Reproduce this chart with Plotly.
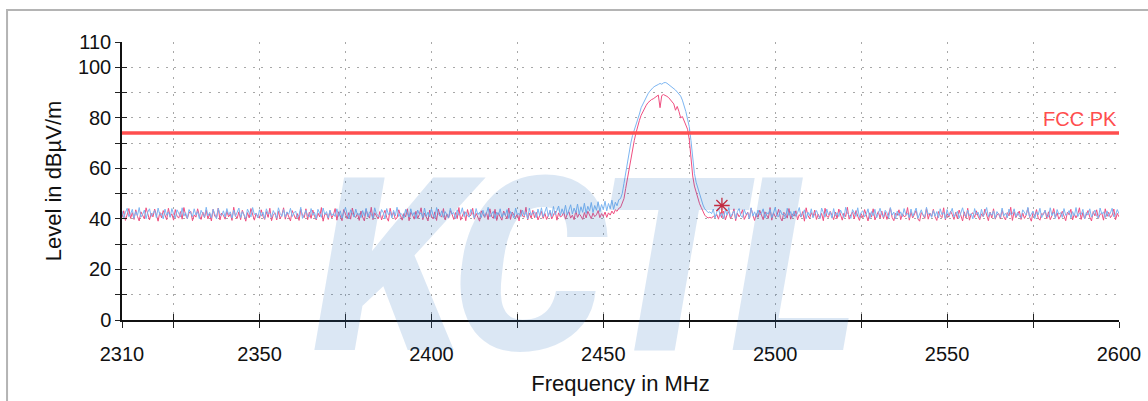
import plotly.graph_objects as go

# ---------------- data ----------------
SWEEP_START_MHZ = 2310.0
SWEEP_STEP_MHZ = 0.5

# blue (peak) trace, 2310 - 2429.5 MHz
blue_low_band = [
    43.1, 40.4, 42.6, 44.2, 40.9, 42.0, 43.8, 40.2, 42.9, 41.3,
    44.5, 40.7, 41.8, 43.5, 40.1, 42.7, 44.0, 41.0, 42.3, 43.3,
    40.5, 44.3, 41.6, 42.1, 40.0, 43.9, 41.4, 42.8, 40.6, 44.1,
    41.9, 40.3, 43.6, 42.4, 40.8, 44.4, 41.1, 42.5, 40.2, 43.7,
    42.2, 40.9, 44.0, 41.5, 42.9, 40.1, 43.4, 41.7, 40.6, 44.6,
    41.2, 42.6, 40.4, 43.8, 41.8, 40.0, 44.2, 42.0, 41.3, 43.2,
    40.7, 44.1, 41.6, 42.8, 40.3, 43.5, 41.0, 42.4, 44.3, 40.5,
    42.9, 41.4, 40.2, 43.9, 42.1, 40.8, 44.5, 41.7, 42.3, 40.4,
    43.6, 41.1, 42.7, 40.1, 44.0, 41.9, 42.5, 40.6, 43.3, 41.5,
    40.3, 44.4, 42.2, 41.0, 43.7, 40.7, 42.8, 41.8, 44.2, 40.9,
    42.4, 43.1, 40.5, 41.6, 44.6, 40.2, 42.0, 43.4, 41.2, 40.8,
    44.1, 41.4, 42.6, 40.0, 43.8, 42.3, 40.6, 44.3, 41.7, 42.9,
    40.4, 43.5, 41.3, 42.1, 40.9, 44.0, 41.0, 43.2, 40.3, 42.7,
    44.5, 41.8, 40.1, 43.6, 42.4, 40.7, 43.9, 41.5, 42.2, 40.5,
    43.3, 41.1, 44.2, 40.8, 42.8, 41.9, 40.2, 44.4, 42.0, 41.4,
    40.6, 43.7, 42.5, 40.0, 44.1, 41.6, 42.9, 40.4, 43.4, 41.2,
    44.6, 40.9, 42.3, 41.7, 40.3, 43.8, 42.1, 40.7, 44.0, 41.3,
    42.6, 40.1, 43.5, 41.8, 42.4, 40.5, 44.3, 41.0, 42.7, 40.8,
    43.9, 41.5, 40.2, 44.5, 42.2, 41.1, 43.2, 40.6, 42.9, 41.6,
    40.4, 44.2, 41.9, 42.5, 40.0, 43.6, 41.4, 42.0, 44.4, 40.9,
    42.8, 41.2, 40.7, 43.8, 42.3, 40.3, 44.1, 41.7, 42.6, 40.5,
    43.4, 41.0, 42.1, 44.6, 40.8, 41.8, 43.0, 40.1, 42.7, 41.5,
    44.0, 40.6, 42.4, 41.3, 43.7, 40.2, 42.9, 41.9, 40.4, 44.3,
    41.6, 42.2, 40.9, 43.5, 41.1, 42.8, 40.0, 44.2, 41.4, 42.5,
]
# blue, 2430 - 2454.5 MHz (slow rise before the carrier)
blue_skirt = [
    42.8, 40.5, 43.9, 41.2, 44.4, 40.8, 42.6, 44.7, 41.0, 43.5,
    40.9, 44.9, 41.6, 43.2, 45.1, 41.3, 44.0, 42.1, 45.4, 41.5,
    43.7, 45.6, 41.9, 44.3, 42.4, 45.9, 41.8, 44.8, 42.6, 46.2,
    42.2, 45.0, 43.1, 46.5, 42.5, 45.3, 43.4, 46.8, 42.9, 45.7,
    43.6, 47.0, 43.2, 46.1, 44.0, 47.4, 43.8, 46.6, 45.2, 47.6,
]
# blue, 2455 - 2481 MHz (carrier)
blue_carrier = [
    48.0, 50.0, 54.0, 58.0, 63.0, 67.0, 70.0, 73.0, 75.0, 77.0,
    79.5, 81.5, 84.0, 85.5, 87.0, 88.5, 89.5, 90.5, 91.5, 92.0,
    92.5, 93.0, 93.2, 93.6, 93.3, 93.8, 94.0, 93.7, 93.2, 92.8,
    92.3, 91.5, 91.0, 90.2, 89.5, 88.6, 87.0, 85.0, 82.5, 79.5,
    76.5, 71.0, 64.0, 58.0, 54.5, 52.0, 49.5, 47.5, 45.5, 44.0,
    43.2, 42.5, 42.8,
]
# blue, 2481.5 - 2600 MHz
blue_high_band = [
    42.1, 43.9, 40.4, 42.7, 44.3, 41.0, 42.4, 40.2, 43.6, 41.5,
    44.5, 40.8, 42.0, 43.2, 40.1, 42.9, 44.1, 41.3, 40.6, 43.7,
    41.8, 42.5, 40.0, 44.4, 41.1, 42.8, 40.7, 43.5, 41.6, 42.2,
    44.0, 40.3, 42.6, 41.9, 43.8, 40.5, 42.3, 44.6, 41.2, 40.9,
    43.4, 41.7, 42.1, 40.2, 44.2, 41.4, 42.9, 40.6, 43.1, 41.0,
    42.4, 44.5, 40.8, 41.8, 43.6, 40.1, 42.7, 41.3, 44.0, 40.4,
    42.0, 43.3, 41.5, 40.0, 44.3, 42.2, 40.7, 43.9, 41.6, 42.8,
    40.3, 44.1, 41.1, 42.5, 40.9, 43.5, 41.8, 40.5, 44.6, 42.3,
    41.4, 40.2, 43.7, 42.0, 41.0, 44.4, 40.6, 42.6, 43.2, 40.8,
    41.9, 44.0, 40.1, 42.9, 41.2, 43.8, 40.4, 42.1, 44.2, 41.7,
    40.7, 43.4, 42.4, 40.3, 44.5, 41.5, 42.7, 40.0, 43.1, 41.3,
    42.8, 40.9, 44.1, 41.6, 42.2, 40.5, 43.9, 41.0, 42.5, 44.3,
    40.2, 42.0, 43.6, 41.4, 40.8, 44.6, 41.8, 42.3, 40.6, 43.3,
    41.1, 42.9, 40.4, 44.0, 41.7, 42.6, 40.1, 43.7, 41.2, 42.4,
    44.2, 40.7, 41.9, 43.0, 40.3, 42.8, 44.4, 41.5, 40.9, 43.5,
    41.3, 42.1, 40.0, 44.1, 41.6, 42.7, 40.5, 43.8, 41.0, 42.2,
    44.5, 40.8, 42.5, 41.4, 43.2, 40.2, 42.9, 41.8, 40.6, 44.3,
    41.2, 42.3, 40.4, 43.9, 41.7, 42.0, 44.0, 40.9, 42.6, 41.1,
    40.3, 43.6, 42.4, 41.5, 44.6, 40.7, 41.9, 43.1, 40.1, 42.8,
    41.6, 44.2, 40.5, 42.2, 43.4, 41.0, 40.8, 44.4, 41.3, 42.7,
    40.2, 43.7, 41.8, 42.5, 40.6, 44.1, 41.4, 42.0, 43.3, 40.4,
    42.9, 41.1, 44.5, 40.9, 42.3, 41.7, 43.8, 40.0, 42.6, 41.5,
    44.0, 40.7, 42.1, 43.5, 41.2, 40.3, 44.3, 41.9, 42.8, 40.5,
    43.2, 41.0, 42.4, 44.2, 40.8, 41.6, 43.7, 42.0,
]

# red (average) trace, same sweep segments
red_low_band = [
    40.6, 43.2, 39.4, 41.9, 44.1, 40.2, 42.5, 39.8, 43.6, 41.0,
    39.2, 42.8, 41.4, 40.0, 44.4, 41.7, 39.6, 42.2, 40.8, 43.9,
    41.2, 39.1, 42.6, 40.4, 43.3, 41.8, 39.7, 44.2, 40.9, 42.0,
    39.5, 43.7, 41.1, 40.3, 42.9, 39.9, 44.5, 41.5, 40.1, 42.4,
    43.0, 39.3, 41.6, 40.7, 44.0, 41.3, 39.8, 42.7, 40.5, 43.5,
    40.0, 42.1, 39.2, 43.8, 41.0, 40.6, 44.3, 39.6, 42.3, 41.4,
    39.9, 43.1, 40.8, 42.0, 39.4, 44.6, 41.2, 40.2, 42.8, 39.7,
    43.4, 41.6, 39.1, 42.5, 40.4, 44.1, 41.9, 39.5, 42.2, 40.9,
    40.3, 43.6, 41.1, 39.8, 42.9, 40.6, 44.2, 39.3, 41.7, 42.4,
    39.6, 43.0, 40.1, 41.5, 44.4, 39.9, 42.6, 40.7, 39.2, 43.3,
    41.8, 40.0, 42.1, 39.4, 43.9, 41.3, 40.5, 44.0, 39.7, 42.7,
    40.2, 43.5, 41.0, 39.6, 42.3, 40.8, 44.5, 39.1, 41.9, 42.0,
    39.8, 43.2, 40.4, 41.6, 44.1, 39.5, 42.8, 40.9, 39.3, 43.7,
    41.4, 40.1, 42.5, 39.9, 44.3, 41.1, 40.6, 42.2, 39.4, 43.1,
    40.7, 39.2, 43.8, 41.5, 40.3, 44.6, 39.7, 42.4, 41.2, 40.0,
    42.9, 39.6, 41.7, 43.4, 40.5, 39.1, 44.2, 41.0, 42.6, 39.8,
    40.4, 43.6, 41.3, 39.5, 42.1, 40.8, 44.0, 39.3, 42.7, 41.6,
    39.9, 43.0, 40.2, 41.8, 44.4, 39.7, 42.3, 40.6, 39.2, 43.5,
    41.1, 40.0, 42.8, 39.4, 43.9, 41.4, 40.7, 44.1, 39.6, 42.0,
    40.3, 43.3, 41.9, 39.8, 42.5, 40.1, 44.5, 39.5, 41.2, 42.9,
    39.3, 43.7, 40.9, 41.5, 44.2, 39.9, 42.2, 40.4, 39.1, 43.2,
    41.7, 40.6, 42.6, 39.7, 44.0, 41.0, 40.2, 43.8, 39.4, 42.4,
    40.8, 39.5, 43.1, 41.3, 40.0, 44.3, 39.8, 42.7, 41.6, 40.5,
    42.0, 39.2, 43.6, 41.1, 40.7, 44.6, 39.6, 42.3, 40.3, 43.4,
]
red_skirt = [
    40.5, 42.6, 39.6, 41.8, 43.0, 40.2, 42.2, 39.8, 41.4, 42.9,
    40.0, 41.7, 43.1, 39.5, 42.4, 40.8, 41.2, 42.7, 39.9, 41.9,
    42.8, 40.3, 41.5, 39.7, 43.2, 40.6, 42.0, 41.1, 39.8, 42.5,
    40.4, 43.0, 41.3, 40.1, 42.3, 40.9, 41.6, 43.3, 40.5, 42.1,
    41.0, 42.7, 40.6, 42.4, 41.5, 43.1, 42.0, 43.6, 43.0, 44.2,
]
red_carrier = [
    44.5, 46.0, 48.0, 52.0, 56.0, 60.0, 64.0, 67.5, 71.0, 74.0,
    77.0, 79.0, 81.0, 82.5, 83.5, 85.0, 86.0, 86.8, 87.2, 87.5,
    88.0, 88.6, 89.0, 84.0, 88.8, 89.2, 89.0, 88.5, 88.0, 87.3,
    86.5, 85.5, 83.0, 84.5, 82.5, 80.0, 80.5, 79.0, 77.5, 75.5,
    71.5, 63.0, 57.0, 53.0, 50.5, 48.0, 46.0, 44.5, 43.0, 41.5,
    40.8, 40.4, 40.6,
]
red_high_band = [
    40.3, 41.1, 40.6, 41.8, 39.9, 42.6, 40.4, 43.1, 39.6, 41.7,
    42.9, 40.1, 41.4, 44.0, 39.3, 42.3, 40.8, 41.9, 43.6, 39.8,
    41.2, 42.7, 40.0, 44.3, 41.5, 39.4, 42.1, 40.6, 43.4, 41.0,
    39.7, 42.8, 41.6, 40.2, 44.5, 39.5, 42.4, 40.9, 41.3, 43.8,
    40.5, 39.2, 42.6, 41.8, 40.3, 44.1, 39.9, 42.0, 41.1, 43.2,
    39.6, 41.7, 40.7, 42.9, 39.1, 44.4, 41.4, 40.1, 42.5, 40.8,
    43.5, 39.8, 41.9, 40.4, 42.2, 39.3, 44.2, 41.0, 40.6, 43.0,
    41.5, 39.7, 42.7, 40.2, 43.9, 41.2, 39.5, 42.3, 40.9, 44.6,
    39.9, 41.6, 42.8, 40.0, 43.3, 41.1, 39.4, 42.1, 40.5, 43.7,
    41.8, 39.2, 42.4, 40.7, 44.0, 39.6, 41.3, 42.9, 40.3, 43.1,
    40.1, 42.6, 39.8, 41.7, 44.3, 40.6, 39.3, 42.2, 41.4, 43.6,
    39.7, 42.0, 40.9, 41.2, 44.5, 39.5, 42.7, 40.4, 41.9, 43.4,
    40.0, 39.1, 42.5, 41.6, 40.2, 44.1, 39.9, 42.3, 41.0, 43.8,
    40.8, 39.4, 42.9, 41.3, 40.5, 44.4, 39.6, 42.1, 40.7, 43.0,
    41.7, 39.8, 42.6, 40.1, 43.5, 41.5, 39.2, 42.8, 40.3, 44.2,
    39.5, 41.9, 42.4, 40.6, 43.2, 41.1, 39.7, 42.0, 40.9, 43.9,
    41.4, 39.3, 42.7, 40.4, 44.0, 39.9, 41.6, 42.2, 40.0, 43.6,
    40.8, 39.6, 42.5, 41.2, 44.6, 39.4, 42.9, 40.5, 41.8, 43.1,
    39.8, 42.3, 40.2, 41.5, 44.3, 40.7, 39.1, 42.6, 41.0, 43.7,
    40.3, 39.5, 42.1, 41.7, 43.4, 40.1, 42.8, 39.7, 41.3, 44.1,
    40.6, 42.4, 39.9, 41.1, 43.0, 40.9, 39.3, 42.7, 41.6, 43.8,
    39.6, 42.0, 40.4, 41.9, 44.4, 39.8, 42.5, 40.0, 41.4, 43.3,
    40.7, 39.2, 42.9, 41.2, 43.6, 40.2, 41.8, 42.3, 39.5, 44.0,
    41.0, 42.6, 40.5, 41.5, 43.9, 39.7, 42.2, 40.8,
]

limit_name = "FCC PK"
limit_freq = [2310, 2600]
limit_level = [74, 74]

marker_freq = [2484.5]
marker_level = [45.3]

x_tick_vals = [2310, 2325, 2350, 2375, 2400, 2425, 2450, 2475, 2500, 2525, 2550, 2575, 2600]
x_tick_text = ["2310", "", "2350", "", "2400", "", "2450", "", "2500", "", "2550", "", "2600"]
y_tick_vals = [0, 10, 20, 30, 40, 50, 60, 70, 80, 90, 100, 110]
y_tick_text = ["0", "", "20", "", "40", "", "60", "", "80", "", "100", "110"]

watermark_text = "KCTL"

# ---------------- build ----------------
blue_level = blue_low_band + blue_skirt + blue_carrier + blue_high_band
red_level = red_low_band + red_skirt + red_carrier + red_high_band
blue_freq = [SWEEP_START_MHZ + SWEEP_STEP_MHZ * i for i in range(len(blue_level))]
red_freq = [SWEEP_START_MHZ + SWEEP_STEP_MHZ * i for i in range(len(red_level))]

BLUE = "rgb(125,182,242)"
RED = "rgb(240,78,128)"
LIMIT = "rgb(255,78,78)"
FONT = "Liberation Sans, Arial, sans-serif"

fig = go.Figure()
fig.add_trace(go.Scatter(x=red_freq, y=red_level, mode="lines", line=dict(color=RED, width=1),
                         hoverinfo="skip", showlegend=False))
fig.add_trace(go.Scatter(x=blue_freq, y=blue_level, mode="lines", line=dict(color=BLUE, width=1),
                         hoverinfo="skip", showlegend=False))
fig.add_trace(go.Scatter(x=limit_freq, y=limit_level, mode="lines", line=dict(color=LIMIT, width=3.5),
                         hoverinfo="skip", showlegend=False))
fig.add_trace(go.Scatter(x=marker_freq, y=marker_level, mode="markers",
                         marker=dict(symbol="asterisk-open", size=13, color="rgb(225,30,40)",
                                     line=dict(color="rgb(225,30,40)", width=1.3)),
                         hoverinfo="skip", showlegend=False))
# empty trace that carries the overlay axes (inner half of the crossing ticks)
fig.add_trace(go.Scatter(x=[], y=[], xaxis="x2", yaxis="y2", showlegend=False, hoverinfo="skip"))

grid_dash = "2px,6.7px"
fig.update_layout(
    template="none",
    width=1148, height=401,
    margin=dict(l=122, r=29, t=42, b=81),
    paper_bgcolor="white", plot_bgcolor="white",
    font=dict(family=FONT, color="#111111"),
    xaxis=dict(range=[2310, 2600], tickmode="array", tickvals=x_tick_vals, ticktext=x_tick_text,
               ticks="outside", ticklen=6, tickwidth=1.2, tickcolor="#222", automargin=False,
               showline=True, linecolor="#111", linewidth=1.5,
               showgrid=True, gridcolor="#a8a8a8", gridwidth=1, griddash=grid_dash,
               zeroline=False, tickfont=dict(size=20), ticklabelstandoff=9,
               title=dict(text="Frequency in MHz", font=dict(size=22), standoff=12)),
    yaxis=dict(range=[0, 110], tickmode="array", tickvals=y_tick_vals, ticktext=y_tick_text,
               ticks="outside", ticklen=5, tickwidth=1.2, tickcolor="#222", automargin=False,
               showline=True, linecolor="#111", linewidth=1.5,
               showgrid=True, gridcolor="#a8a8a8", gridwidth=1, griddash=grid_dash,
               zeroline=False, tickfont=dict(size=20),
               title=dict(text="Level in dBµV/m", font=dict(size=22), standoff=10)),
    xaxis2=dict(range=[2310, 2600], overlaying="x", tickmode="array", tickvals=x_tick_vals,
                ticks="inside", ticklen=6, tickwidth=1.2, tickcolor="#222", showticklabels=False,
                showgrid=False, showline=False, zeroline=False, automargin=False),
    yaxis2=dict(range=[0, 110], overlaying="y", tickmode="array", tickvals=y_tick_vals,
                ticks="inside", ticklen=5, tickwidth=1.2, tickcolor="#222", showticklabels=False,
                showgrid=False, showline=False, zeroline=False, automargin=False),
    shapes=[dict(type="rect", xref="paper", yref="paper", x0=-0.1153, x1=1.2, y0=-0.4, y1=1.1151,
                 line=dict(color="#b4b4b4", width=2), fillcolor="rgba(0,0,0,0)", layer="below")],
    annotations=[
        dict(text='<span style="letter-spacing:-9px">' + watermark_text + '</span>',
             x=2444, y=21, xref="x", yref="y", showarrow=False,
             xanchor="center", yanchor="middle",
             font=dict(family="Roboto, Liberation Sans, sans-serif", size=242, weight=900,
                       style="italic", color="rgba(40,110,190,0.17)")),
        dict(text=limit_name, x=2600, y=74, xref="x", yref="y", showarrow=False,
             xanchor="right", yanchor="bottom", yshift=1,
             font=dict(family=FONT, size=20, color=LIMIT)),
    ],
)

fig.write_html("out.html", config={"displayModeBar": False},
               post_script="document.body.style.margin='0';")
